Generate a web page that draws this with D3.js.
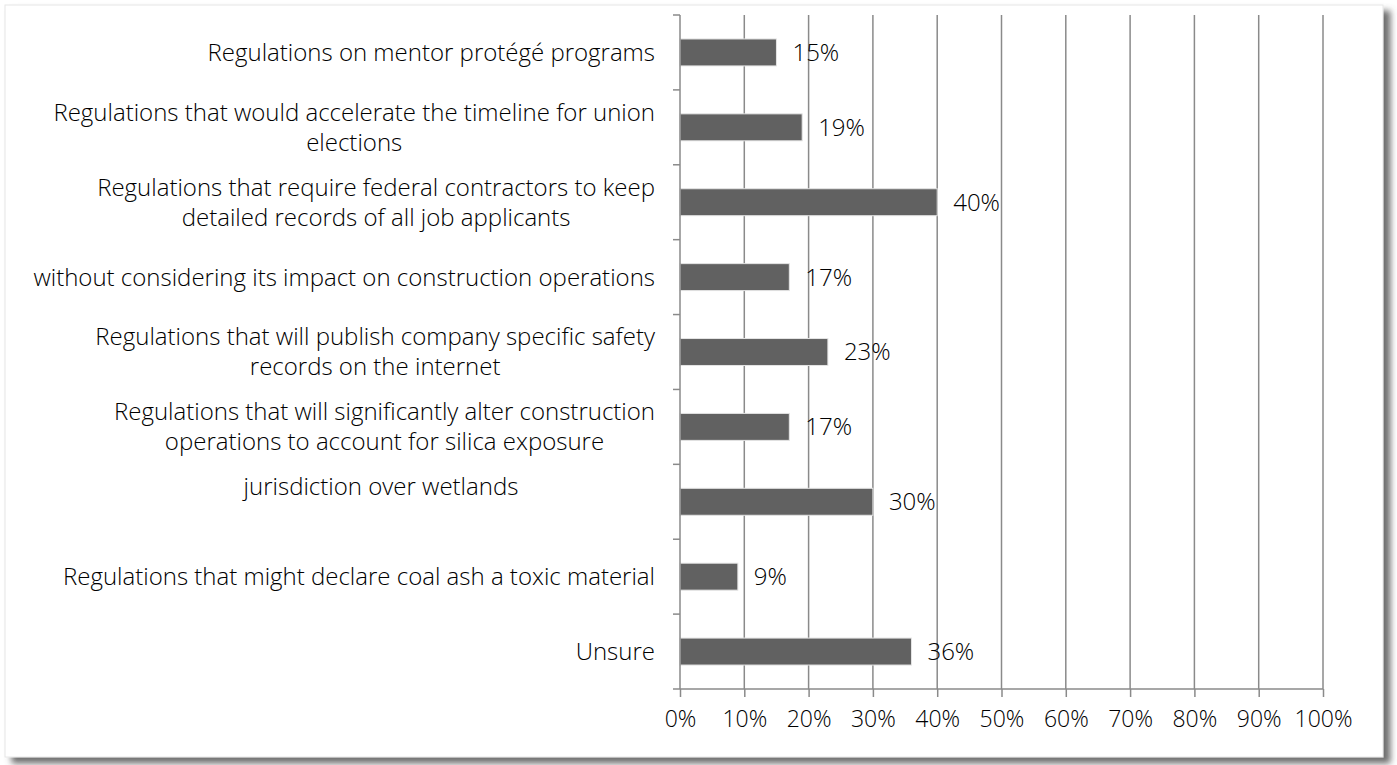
<!DOCTYPE html>
<html>
<head>
<meta charset="utf-8">
<script src="https://cdn.jsdelivr.net/npm/d3@7"></script>
<style>
  body { margin: 0; background: #fff; }
  text { font-family: "Open Sans", sans-serif; font-weight: 300; fill: #000; }
</style>
</head>
<body>
<div id="chart"></div>
<script>
// Category labels (already split into lines as shown in the chart)
const categories = [
    ["Regulations on mentor protégé programs"],
    ["Regulations that would accelerate the timeline for union", "elections"],
    ["Regulations that require federal contractors to keep", "detailed records of all job applicants"],
    ["without considering its impact on construction operations"],
    ["Regulations that will publish company specific safety", "records on the internet"],
    ["Regulations that will significantly alter construction", "operations to account for silica exposure"],
    ["jurisdiction over wetlands", ""],
    ["Regulations that might declare coal ash a toxic material"],
    ["Unsure"]
];
const values = [15, 19, 40, 17, 23, 17, 30, 9, 36];
const xTicks = [0, 10, 20, 30, 40, 50, 60, 70, 80, 90, 100];

const W = 1397, H = 765;
const margin = { top: 15, right: 74, bottom: 76, left: 680 };
const width = W - margin.left - margin.right;
const height = H - margin.top - margin.bottom;
const fontSize = 24;
// the wetlands label was clipped in the original, so its block is wider than the visible line
const minBlockWidth = { 6: 548 };

const svg = d3.select("#chart")
    .append("svg")
    .attr("width", W)
    .attr("height", H);

// frame with shadow
const defs = svg.append("defs");
const f = defs.append("filter").attr("id", "shadow")
    .attr("x", "-5%").attr("y", "-5%").attr("width", "110%").attr("height", "115%");
f.append("feDropShadow")
    .attr("dx", 7).attr("dy", 6).attr("stdDeviation", 3)
    .attr("flood-color", "#555").attr("flood-opacity", 0.85);

svg.append("rect")
    .attr("x", 5).attr("y", 5)
    .attr("width", 1378).attr("height", 752)
    .attr("fill", "#fff")
    .attr("stroke", "#e6e6e6")
    .attr("filter", "url(#shadow)");

const g = svg.append("g")
    .attr("transform", `translate(${margin.left},${margin.top})`);

const x = d3.scaleLinear().domain([0, 100]).range([0, width]);
const y = d3.scaleBand()
    .domain(d3.range(categories.length))
    .range([0, height])
    .paddingInner(0.64)
    .paddingOuter(0.32);

const gridColor = "#8a8a8a";

// vertical gridlines
g.append("g")
    .selectAll("line")
    .data(xTicks.slice(1))
    .join("line")
    .attr("x1", d => x(d)).attr("x2", d => x(d))
    .attr("y1", 0).attr("y2", height)
    .attr("stroke", gridColor)
    .attr("stroke-width", 1.5);

// bars
g.append("g")
    .selectAll("rect")
    .data(values)
    .join("rect")
    .attr("x", 0)
    .attr("y", (d, i) => y(i))
    .attr("width", d => x(d))
    .attr("height", y.bandwidth())
    .attr("fill", "#616161")
    .attr("stroke", "#e4e4e4")
    .attr("stroke-width", 1);

// value labels
g.append("g")
    .selectAll("text")
    .data(values)
    .join("text")
    .attr("x", d => x(d) + 16)
    .attr("y", (d, i) => y(i) + y.bandwidth() / 2)
    .attr("dy", "0.35em")
    .attr("font-size", fontSize)
    .text(d => d + "%");

// left axis
const step = height / categories.length;
const leftAxis = g.append("g");
leftAxis.append("line")
    .attr("x1", 0).attr("x2", 0).attr("y1", 0).attr("y2", height)
    .attr("stroke", gridColor).attr("stroke-width", 1.5);
leftAxis.selectAll("line.tick")
    .data(d3.range(categories.length))
    .join("line")
    .attr("class", "tick")
    .attr("x1", -7).attr("x2", 0)
    .attr("y1", i => i * step).attr("y2", i => i * step)
    .attr("stroke", gridColor).attr("stroke-width", 1.5);

// category labels
const labels = g.append("g")
    .selectAll("text")
    .data(categories)
    .join("text")
    .attr("font-size", fontSize)
    .attr("text-anchor", "middle");

labels.each(function(lines, i) {
    const t = d3.select(this);
    const lh = 30;
    const cy = y(i) + y.bandwidth() / 2;
    // block right-aligned at x=-25, lines centred within the block
    const widths = lines.map(l => {
        const s = t.append("tspan").text(l);
        const w = s.node().getComputedTextLength();
        s.remove();
        return w;
    });
    const blockW = Math.max(d3.max(widths), minBlockWidth[i] || 0);
    const cx = -25 - blockW / 2;
    lines.forEach((l, k) => {
        t.append("tspan")
            .attr("x", cx)
            .attr("y", cy + (k - (lines.length - 1) / 2) * lh)
            .attr("dy", "0.35em")
            .text(l);
    });
});

// bottom axis
const xAxis = d3.axisBottom(x)
    .tickValues(xTicks)
    .tickSize(8)
    .tickPadding(14)
    .tickFormat(d => d + "%");

const xa = g.append("g")
    .attr("transform", `translate(0,${height})`)
    .call(xAxis);
xa.select(".domain").remove();
xa.append("line")
    .attr("x1", -7).attr("x2", width)
    .attr("stroke", gridColor).attr("stroke-width", 1.5);
xa.selectAll(".tick line").attr("stroke", gridColor).attr("stroke-width", 1.5);
xa.selectAll(".tick text")
    .attr("font-size", 23)
    .attr("font-family", "Open Sans, sans-serif")
    .attr("fill", "#000");
</script>
</body>
</html>
